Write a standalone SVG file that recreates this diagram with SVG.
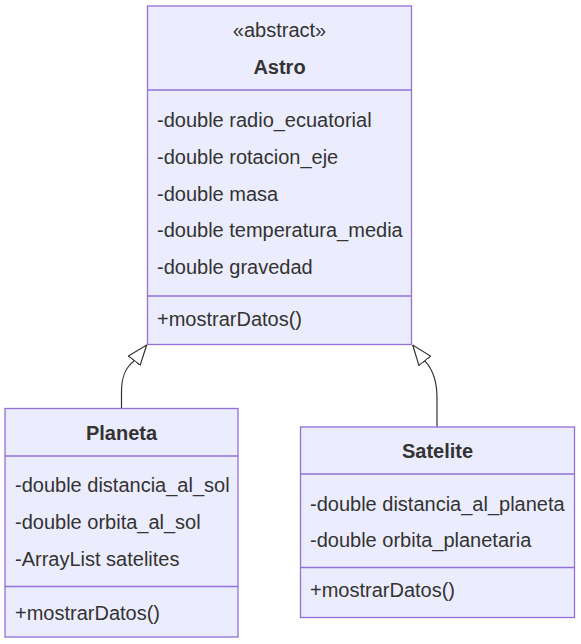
<svg xmlns="http://www.w3.org/2000/svg" width="581" height="644" viewBox="0 0 581 644">
<defs>
<style>
.box{fill:#ECECFF;stroke:#9370DB;stroke-width:1.3}
.div{stroke:#9370DB;stroke-width:1.3}
text{font-family:"Liberation Sans",Arial,sans-serif;font-size:20px;fill:#333}
.c{text-anchor:middle}
.b{font-weight:bold}
.edge{fill:none;stroke:#333;stroke-width:1.2}
</style>
<marker id="inh" markerUnits="userSpaceOnUse" viewBox="0 0 21 16" markerWidth="21" markerHeight="16" refX="20.5" refY="8" orient="auto">
<path d="M0.5,0.5 L20.5,8 L0.5,15.5 Z" fill="#fff" stroke="#333" stroke-width="1.2"/>
</marker>
</defs>
<rect width="581" height="644" fill="#fff"/>
<g id="connectors">
<path class="edge" d="M121.5,408 L121.5,392 C121.5,377 125,368 133.7,361.3 L146.7,345" marker-end="url(#inh)"/>
<path class="edge" d="M437,427 L437,398 C437,381 433,370 425.5,361.7 L412.7,345" marker-end="url(#inh)"/>
</g>
<g id="Astro">
<rect class="box" x="147.5" y="6" width="264" height="338.5"/>
<line class="div" x1="147.5" y1="90" x2="411.5" y2="90"/>
<line class="div" x1="147.5" y1="296" x2="411.5" y2="296"/>
<text class="c" x="279.5" y="37">«abstract»</text>
<text class="c b" x="279.5" y="74">Astro</text>
<text x="157" y="127">-double radio_ecuatorial</text>
<text x="157" y="164">-double rotacion_eje</text>
<text x="157" y="200.5">-double masa</text>
<text x="157" y="237">-double temperatura_media</text>
<text x="157" y="274">-double gravedad</text>
<text x="157" y="325.5">+mostrarDatos()</text>
</g>
<g id="Planeta">
<rect class="box" x="5" y="408.5" width="233" height="228.5"/>
<line class="div" x1="5" y1="456" x2="238" y2="456"/>
<line class="div" x1="5" y1="586.5" x2="238" y2="586.5"/>
<text class="c b" x="121.5" y="440">Planeta</text>
<text x="15" y="492">-double distancia_al_sol</text>
<text x="15" y="528.5">-double orbita_al_sol</text>
<text x="15" y="566">-ArrayList satelites</text>
<text x="15" y="620">+mostrarDatos()</text>
</g>
<g id="Satelite">
<rect class="box" x="300.5" y="427" width="274" height="190.5"/>
<line class="div" x1="300.5" y1="474" x2="574.5" y2="474"/>
<line class="div" x1="300.5" y1="567.5" x2="574.5" y2="567.5"/>
<text class="c b" x="437.5" y="457.5">Satelite</text>
<text x="310" y="510.5">-double distancia_al_planeta</text>
<text x="310" y="547">-double orbita_planetaria</text>
<text x="310" y="597">+mostrarDatos()</text>
</g>
</svg>
